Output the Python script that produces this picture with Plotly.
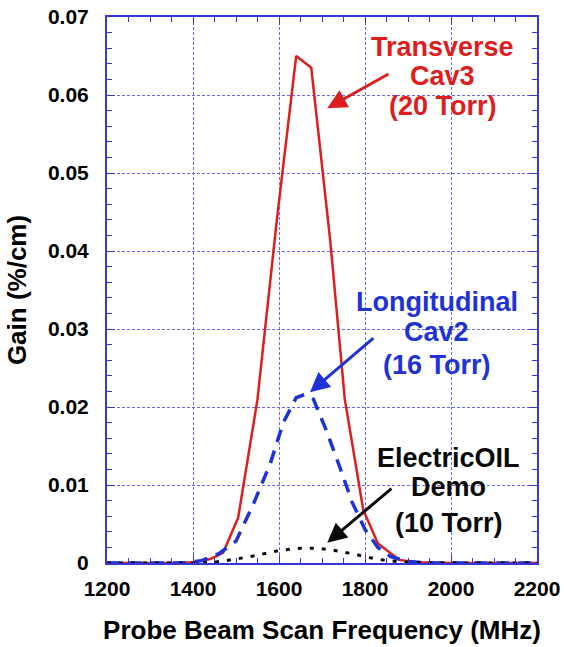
import plotly.graph_objects as go

# Data
freq_red = [1200, 1350, 1400, 1440, 1470, 1505, 1550, 1595, 1640, 1675, 1719, 1753, 1796, 1830, 1880, 1920, 2000, 2200]
gain_red = [0, 0, 0.0001, 0.0005, 0.0013, 0.0058, 0.0210, 0.0440, 0.0650, 0.0635, 0.0414, 0.0210, 0.0068, 0.0025, 0.0004, 0.0001, 0, 0]

freq_blue = [1200, 1380, 1420, 1460, 1500, 1540, 1580, 1610, 1640, 1660, 1680, 1710, 1740, 1770, 1800, 1830, 1860, 1900, 1950, 2200]
gain_blue = [0, 0, 0.0003, 0.0012, 0.0028, 0.0075, 0.0128, 0.0180, 0.0212, 0.0216, 0.0210, 0.0170, 0.0125, 0.0078, 0.0043, 0.0020, 0.0008, 0.0002, 0, 0]

freq_black = [1200, 1400, 1450, 1500, 1550, 1600, 1650, 1690, 1730, 1770, 1810, 1850, 1900, 1950, 2200]
gain_black = [0, 0, 0.0001, 0.0005, 0.0010, 0.0016, 0.0019, 0.0019, 0.0016, 0.0012, 0.0007, 0.0003, 0.0001, 0, 0]

x_ticks = [1200, 1400, 1600, 1800, 2000, 2200]
y_ticks = [0, 0.01, 0.02, 0.03, 0.04, 0.05, 0.06, 0.07]
y_tick_text = ["0", "0.01", "0.02", "0.03", "0.04", "0.05", "0.06", "0.07"]

RED = "rgb(222,30,30)"
BLUE = "rgb(30,50,215)"
BLACK = "rgb(10,10,10)"
AXIS = "rgb(55,55,215)"
FONT = "Liberation Sans, Arial, sans-serif"

fig = go.Figure()
fig.add_trace(go.Scatter(x=freq_red, y=gain_red, mode="lines",
                         line=dict(color=RED, width=2.5), showlegend=False))
fig.add_trace(go.Scatter(x=freq_blue, y=gain_blue, mode="lines",
                         line=dict(color=BLUE, width=3.5, dash="13px,9px"), showlegend=False))
fig.add_trace(go.Scatter(x=freq_black, y=gain_black, mode="lines",
                         line=dict(color=BLACK, width=3, dash="4px,8px"), showlegend=False))

axis_common = dict(
    showline=True, linecolor=AXIS, linewidth=2, mirror="ticks",
    ticks="inside", ticklen=8, tickwidth=1, tickcolor=AXIS,
    showgrid=True, gridcolor="rgb(105,105,240)", gridwidth=1, griddash="3px,2px",
    zeroline=False, automargin=False,
    tickfont=dict(family=FONT, size=21, color="black", weight="bold"),
)

fig.update_xaxes(range=[1200, 2200], tickvals=x_ticks,
                 minor=dict(dtick=50, ticks="inside", ticklen=5, tickcolor=AXIS),
                 ticklabelstandoff=6,
                 title=dict(text="Probe Beam Scan Frequency (MHz)", standoff=22,
                            font=dict(family=FONT, size=26, color="black", weight="bold")),
                 **axis_common)
fig.update_yaxes(range=[0, 0.07], tickvals=y_ticks, ticktext=y_tick_text,
                 minor=dict(dtick=0.002, ticks="inside", ticklen=5, tickcolor=AXIS),
                 ticklabelstandoff=12,
                 title=dict(text="Gain (%/cm)", standoff=14,
                            font=dict(family=FONT, size=26, color="black", weight="bold")),
                 **axis_common)

# Label texts (one annotation per line)
labels = [
    (["Transverse", "Cav3", "(20 Torr)"], RED, 1981, [0.0662, 0.0624, 0.0586]),
    (["Longitudinal", "Cav2", "(16 Torr)"], BLUE, 1967, [0.0335, 0.0296, 0.0254]),
    (["ElectricOIL", "Demo", "(10 Torr)"], BLACK, 1995, [0.0135, 0.0097, 0.0051]),
]
for lines, color, xc, ys in labels:
    for txt, yy in zip(lines, ys):
        fig.add_annotation(x=xc, y=yy, xref="x", yref="y", text=txt, showarrow=False,
                           font=dict(family=FONT, size=27, color=color, weight="bold"),
                           xanchor="center", yanchor="middle")

# Arrows (head, tail) in data coordinates
arrows = [
    (1712, 0.0583, 1858, 0.0628, RED),
    (1672, 0.0219, 1823, 0.0290, BLUE),
    (1712, 0.0026, 1865, 0.0097, BLACK),
]
for hx, hy, tx, ty, color in arrows:
    fig.add_annotation(x=hx, y=hy, ax=tx, ay=ty, xref="x", yref="y", axref="x", ayref="y",
                       text="", showarrow=True, arrowhead=2, arrowsize=1.3, arrowwidth=3,
                       arrowcolor=color)

fig.update_layout(
    width=564, height=647,
    margin=dict(l=107, r=27, t=17, b=84),
    paper_bgcolor="white", plot_bgcolor="white",
    showlegend=False,
)

fig.write_html("out.html", config={"displayModeBar": False},
               post_script="document.body.style.margin='0';document.body.style.overflow='hidden';")
